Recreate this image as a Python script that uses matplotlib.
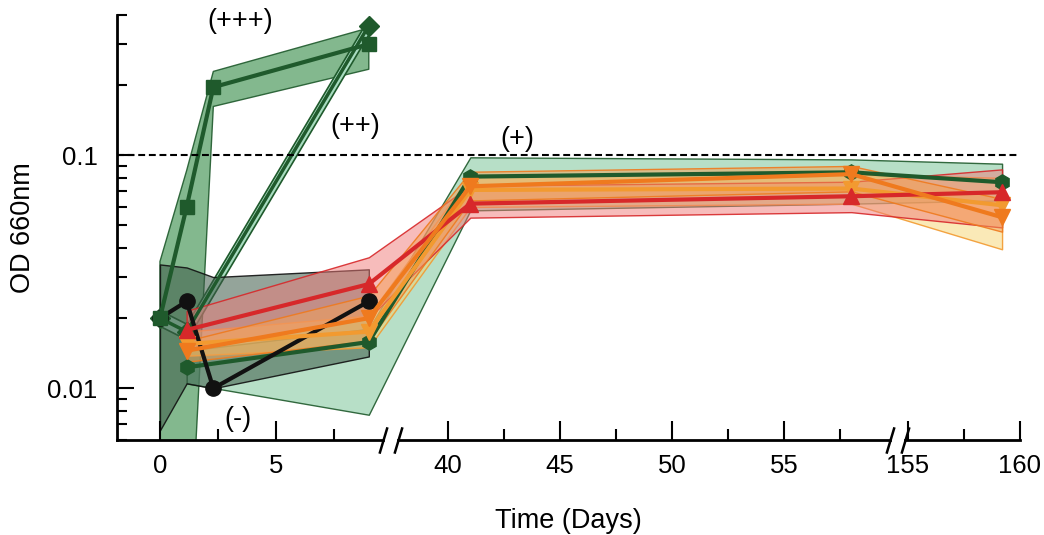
import matplotlib
matplotlib.use("Agg")
import matplotlib.pyplot as plt
import numpy as np
from matplotlib.colors import to_rgba
from matplotlib.ticker import FuncFormatter, NullFormatter

plt.rcParams["font.family"] = ["Liberation Sans", "DejaVu Sans"]

# ---- DATA ----
days_early = [0, 1.15, 2.3, 9]
days_pp = [0, 1.15, 9]
days_plus = [1.15, 9, 41, 58, 159.2]

# (+++) inoculum
od_ppp = [0.020, 0.060, 0.196, 0.30]
od_ppp_lo = [0.003, 0.001, 0.162, 0.234]
od_ppp_hi = [0.035, 0.086, 0.229, 0.352]

# (++) inoculum
od_pp = [0.020, 0.0175, 0.36]
od_pp_lo = [0.0185, 0.0162, 0.333]
od_pp_hi = [0.0216, 0.0189, 0.389]

# (-) control
od_neg = [0.020, 0.0236, 0.010, 0.0236]
od_neg_lo = [0.0066, 0.0105, 0.0100, 0.0137]
od_neg_hi = [0.034, 0.033, 0.030, 0.0324]

# (+) replicates
od_green = [0.0123, 0.0158, 0.081, 0.0845, 0.0766]
od_green_lo = [0.0105, 0.0077, 0.058, 0.062, 0.064]
od_green_hi = [0.0145, 0.0180, 0.098, 0.096, 0.092]

od_red = [0.0178, 0.028, 0.062, 0.0667, 0.0694]
od_red_lo = [0.0148, 0.020, 0.054, 0.057, 0.049]
od_red_hi = [0.0215, 0.0365, 0.074, 0.077, 0.087]

od_orange = [0.0145, 0.020, 0.0736, 0.083, 0.0542]
od_orange_lo = [0.0130, 0.016, 0.064, 0.070, 0.047]
od_orange_hi = [0.0160, 0.025, 0.085, 0.090, 0.065]

od_amber = [0.0155, 0.0175, 0.071, 0.072, 0.061]
od_amber_lo = [0.0138, 0.0150, 0.060, 0.062, 0.0395]
od_amber_hi = [0.0175, 0.0205, 0.082, 0.083, 0.080]

# ---- BROKEN X AXIS: piecewise linear scale with squeezed gaps ----
X_KNOTS = [-60, 9.61, 37.77, 59.73, 154.87, 400]
X_SCREEN = [-1232, 383, 398, 890, 905, 6396]
SEGMENTS = [(-1.85, 9.61), (37.77, 59.73), (154.87, 160)]


def _fwd(x):
    return np.interp(x, X_KNOTS, X_SCREEN)


def _inv(u):
    return np.interp(u, X_SCREEN, X_KNOTS)


def _series(ax, t, y, lo, hi, color, band, marker, ms, z, alpha=0.55):
    ax.fill_between(t, lo, hi, facecolor=to_rgba(band, alpha),
                    edgecolor=to_rgba(color, 0.9), linewidth=1.0, zorder=z)
    ax.plot(t, y, color=color, lw=3, marker=marker, ms=ms,
            markeredgecolor=color, zorder=z + 2)


fig = plt.figure(figsize=(10.44, 5.35), dpi=100)
ax = fig.add_axes([0.1121, 0.1776, 0.8649, 0.7944])
ax.set_xscale("function", functions=(_fwd, _inv))
ax.set_yscale("log")

# bands + lines
_series(ax, days_early, od_neg, od_neg_lo, od_neg_hi, "#111111", "#3d5a48", "o", 11, 1.2, 0.55)
_series(ax, days_early, od_ppp, od_ppp_lo, od_ppp_hi, "#1f5a2c", "#4f9a5f", "s", 10, 1.0, 0.7)
ax.lines[-1].set_zorder(3.4)
_series(ax, days_plus, od_green, od_green_lo, od_green_hi, "#1f5a2c", "#7cc59a", "h", 11, 1.1, 0.55)
_series(ax, days_plus, od_amber, od_amber_lo, od_amber_hi, "#f29a30", "#f6d470", "v", 11, 1.3, 0.5)
_series(ax, days_plus, od_red, od_red_lo, od_red_hi, "#d7282a", "#f07a78", "^", 12, 1.4, 0.5)
_series(ax, days_plus, od_orange, od_orange_lo, od_orange_hi, "#ef7a1e", "#f4a055", "v", 12, 1.5, 0.5)
# (++) drawn as a narrow double-line band
ax.fill_between(days_pp, od_pp_lo, od_pp_hi, facecolor="#a8dcc0",
                edgecolor="#1f5a2c", linewidth=1.2, zorder=1.05)
ax.plot(days_pp, od_pp, color="#1f5a2c", lw=2.5, marker="D", ms=10, zorder=2.9)

ax.axhline(0.1, color="black", ls=(0, (3.3, 1.8)), lw=1.5, zorder=5)

# labels on curves
ax.text(3.45, 0.376, "(+++)", fontsize=19.5, ha="center", va="center")
ax.text(8.4, 0.133, "(++)", fontsize=19.5, ha="center", va="center")
ax.text(43.1, 0.117, "(+)", fontsize=19.5, ha="center", va="center")
ax.text(3.36, 0.0074, "(-)", fontsize=19.5, ha="center", va="center")

# axes
ax.set_xlim(-1.85, 160)
ax.set_ylim(0.006, 0.4)
ax.set_xticks([0, 5, 40, 45, 50, 55, 155, 160])
ax.set_xticks([2.5, 7.5, 42.5, 47.5, 52.5, 57.5, 157.5], minor=True)
ax.set_xticklabels(["0", "5", "40", "45", "50", "55", "155", "160"])
ax.set_yticks([0.01, 0.1])
ax.yaxis.set_major_formatter(FuncFormatter(lambda v, _: f"{v:g}"))
ax.yaxis.set_minor_formatter(NullFormatter())

ax.tick_params(axis="both", which="both", direction="in", width=1.5, colors="black")
ax.tick_params(axis="x", which="major", length=14, labelsize=18.5, pad=10)
ax.tick_params(axis="x", which="minor", length=8)
ax.tick_params(axis="y", which="major", length=12, labelsize=18.5, pad=14)
ax.tick_params(axis="y", which="minor", length=7)

for side in ("top", "right", "bottom"):
    ax.spines[side].set_visible(False)
ax.spines["left"].set_linewidth(2)

# bottom axis drawn in pieces with // break marks
xtr = ax.get_xaxis_transform()
for a, b in SEGMENTS:
    ax.plot([a, b], [0, 0], color="black", lw=2, transform=xtr, clip_on=False, zorder=6)
for x0 in [SEGMENTS[0][1], SEGMENTS[1][0], SEGMENTS[1][1], SEGMENTS[2][0]]:
    ax.plot([x0], [0], transform=xtr, marker=[(-0.3, -1), (0.3, 1)], ms=19,
            mew=1.8, color="black", clip_on=False, zorder=7)

ax.set_xlabel("Time (Days)", fontsize=19.5, labelpad=22)
ax.set_ylabel("OD 660nm", fontsize=19.5, labelpad=8)

fig.savefig("out.png", dpi=100)
